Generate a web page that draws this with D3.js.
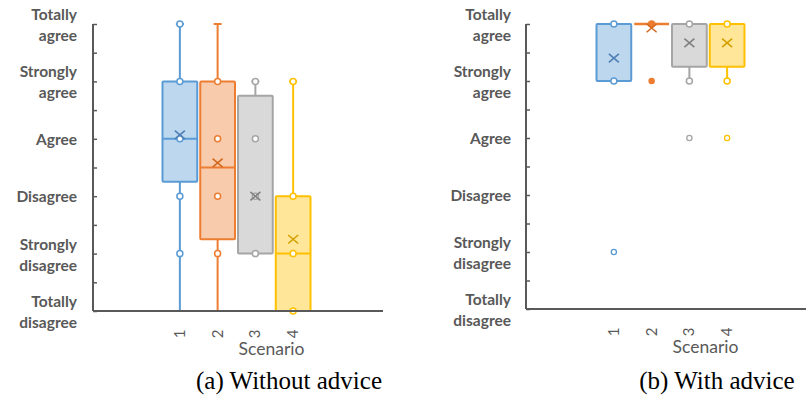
<!DOCTYPE html>
<html><head><meta charset="utf-8">
<script src="https://cdn.jsdelivr.net/npm/d3@7"></script>
<style>body{margin:0;background:#fff}svg{display:block}</style>
</head><body>
<svg id="c" width="806" height="395"></svg>
<script>
// ---- data ----
const scenarios = ["1","2","3","4"];
const levelLabels = [["Totally","disagree"],["Strongly","disagree"],["Disagree"],["Agree"],["Strongly","agree"],["Totally","agree"]];
const colors = ["#5b9bd5","#ed7d31","#a5a5a5","#ffc000"];
const fills  = ["#bdd7ee","#f8cbad","#d9d9d9","#ffe699"];
const markColors = ["#4f7fb5","#d2691e","#808080","#d4a000"];

// (a) Without advice
const aLow    = [0, 0, 1, 0];
const aQ1     = [2.25, 1.25, 1, 0];
const aMedian = [3, 2.5, 2, 1];
const aQ3     = [4, 4, 3.75, 2];
const aHigh   = [5, 5, 4, 4];
const aMean   = [3.07, 2.58, 2.0, 1.25];
const aPoints = [[1,2,3,4,5],[1,2,3,4],[1,2,3,4],[0,1,2,4]];
const aOutliers = [[],[],[],[]];

// (b) With advice
const bLow    = [4, 5, 4, 4];
const bQ1     = [4, 5, 4.25, 4.25];
const bMedian = [5, 5, 5, 5];
const bQ3     = [5, 5, 5, 5];
const bHigh   = [5, 5, 5, 5];
const bMean   = [4.4, 4.93, 4.67, 4.67];
const bPoints = [[4,5],[5],[4,5],[4,5]];
const bOutliers = [[1],[4],[3],[3]];
const bOutlierFilled = [false, true, false, false];

const captions = ["(a) Without advice", "(b) With advice"];

// ---- layout ----
const svg = d3.select("#c");
const panels = [
  {axisX:93, axisEnd:383, top:24, bottom:311, band:[162.5,310.5], labelX:77,
   low:aLow,q1:aQ1,med:aMedian,q3:aQ3,high:aHigh,mean:aMean,pts:aPoints,out:aOutliers,outFill:[false,false,false,false],
   caption:captions[0], capX:289, showMedian:[true,true,false,true]},
  {axisX:526, axisEnd:806, top:24, bottom:309, band:[596.5,744.5], labelX:511,
   low:bLow,q1:bQ1,med:bMedian,q3:bQ3,high:bHigh,mean:bMean,pts:bPoints,out:bOutliers,outFill:bOutlierFilled,
   caption:captions[1], capX:717, showMedian:[false,true,false,false]}
];
const labelFont = "Lato, 'Open Sans', sans-serif";
const gray = "#595959";

panels.forEach(p => {
  const g = svg.append("g");
  const y = d3.scaleLinear().domain([0,5]).range([p.bottom, p.top]);
  const x = d3.scaleBand().domain(scenarios).range(p.band).paddingInner(0.08).paddingOuter(0);
  const bw = x.bandwidth();
  const cx = d => x(d) + bw/2;

  // y axis
  const yAxis = d3.axisRight(y).tickValues(d3.range(0,5.01,0.5)).tickSize(4).tickFormat("");
  const ya = g.append("g").attr("transform",`translate(${p.axisX},0)`).call(yAxis);
  ya.select(".domain").attr("stroke",gray).attr("stroke-width",2).attr("d",`M0,${p.top}V${p.bottom}`);
  ya.selectAll(".tick line").attr("stroke",gray).attr("stroke-width",1.5);

  // y labels
  levelLabels.forEach((lines,i) => {
    const ty = y(i);
    const t = g.append("text").attr("text-anchor","end").attr("fill",gray)
      .attr("font-family",labelFont).attr("font-weight",700).attr("font-size",15.5);
    if (lines.length === 1) {
      t.append("tspan").attr("x",p.labelX).attr("y",ty+6).text(lines[0]);
    } else {
      t.append("tspan").attr("x",p.labelX).attr("y",ty-4).text(lines[0]);
      t.append("tspan").attr("x",p.labelX).attr("y",ty+17).text(lines[1]);
    }
  });

  // boxes
  scenarios.forEach((s,i) => {
    const c = cx(s), col = colors[i];
    g.append("line").attr("x1",c).attr("x2",c).attr("y1",y(p.q3[i])).attr("y2",y(p.high[i]))
      .attr("stroke",col).attr("stroke-width",2);
    g.append("line").attr("x1",c).attr("x2",c).attr("y1",y(p.q1[i])).attr("y2",y(p.low[i]))
      .attr("stroke",col).attr("stroke-width",2);
    if (p.high[i] > p.q3[i])
      g.append("line").attr("x1",c-4).attr("x2",c+4).attr("y1",y(p.high[i])).attr("y2",y(p.high[i]))
        .attr("stroke",col).attr("stroke-width",2);
    const h = y(p.q1[i]) - y(p.q3[i]);
    if (h > 0) {
      g.append("rect").attr("x",x(s)).attr("width",bw).attr("y",y(p.q3[i])).attr("height",h)
        .attr("fill",fills[i]).attr("stroke",col).attr("stroke-width",2).attr("rx",1);
    } else {
      g.append("line").attr("x1",x(s)).attr("x2",x(s)+bw).attr("y1",y(p.q3[i])).attr("y2",y(p.q3[i]))
        .attr("stroke",col).attr("stroke-width",2.5);
    }
    if (p.showMedian[i] && h > 0)
      g.append("line").attr("x1",x(s)).attr("x2",x(s)+bw).attr("y1",y(p.med[i])).attr("y2",y(p.med[i]))
        .attr("stroke",col).attr("stroke-width",2);
    p.pts[i].forEach(v => {
      g.append("circle").attr("cx",c).attr("cy",y(v)).attr("r",3)
        .attr("fill", (p.outFill[i] ? col : "#fff")).attr("stroke",col).attr("stroke-width",1.5);
    });
    p.out[i].forEach(v => {
      g.append("circle").attr("cx",c).attr("cy",y(v)).attr("r",2.6)
        .attr("fill", p.outFill[i] ? col : "#fff").attr("stroke",col).attr("stroke-width",1.3);
    });
    const my = y(p.mean[i]), m = 5;
    g.append("path").attr("d",`M${c-m},${my-m*0.85}L${c+m},${my+m*0.85}M${c+m},${my-m*0.85}L${c-m},${my+m*0.85}`)
      .attr("stroke",markColors[i]).attr("stroke-width",1.6).attr("fill","none");
  });

  // x axis
  const xAxis = d3.axisBottom(x).tickSize(0).tickPadding(0);
  const xa = g.append("g").attr("transform",`translate(0,${p.bottom})`).call(xAxis);
  xa.select(".domain").attr("stroke",gray).attr("stroke-width",2).attr("d",`M${p.axisX},0H${p.axisEnd}`);
  xa.selectAll(".tick text").attr("fill",gray).attr("font-family",labelFont).attr("font-size",15)
    .attr("text-anchor","middle").attr("dy",null).attr("y",0)
    .attr("transform","translate(5,23) rotate(-90)");

  const gc = (p.band[0]+p.band[1])/2;
  g.append("text").attr("x",gc+35).attr("y",p.bottom+44).attr("text-anchor","middle")
    .attr("fill",gray).attr("font-family",labelFont).attr("font-size",17.5).text("Scenario");

  g.append("text").attr("x",p.capX).attr("y",389).attr("text-anchor","middle")
    .attr("fill","#000").attr("font-family","'Liberation Serif', 'Times New Roman', serif").attr("font-size",25)
    .text(p.caption);
});
</script>
</body></html>
